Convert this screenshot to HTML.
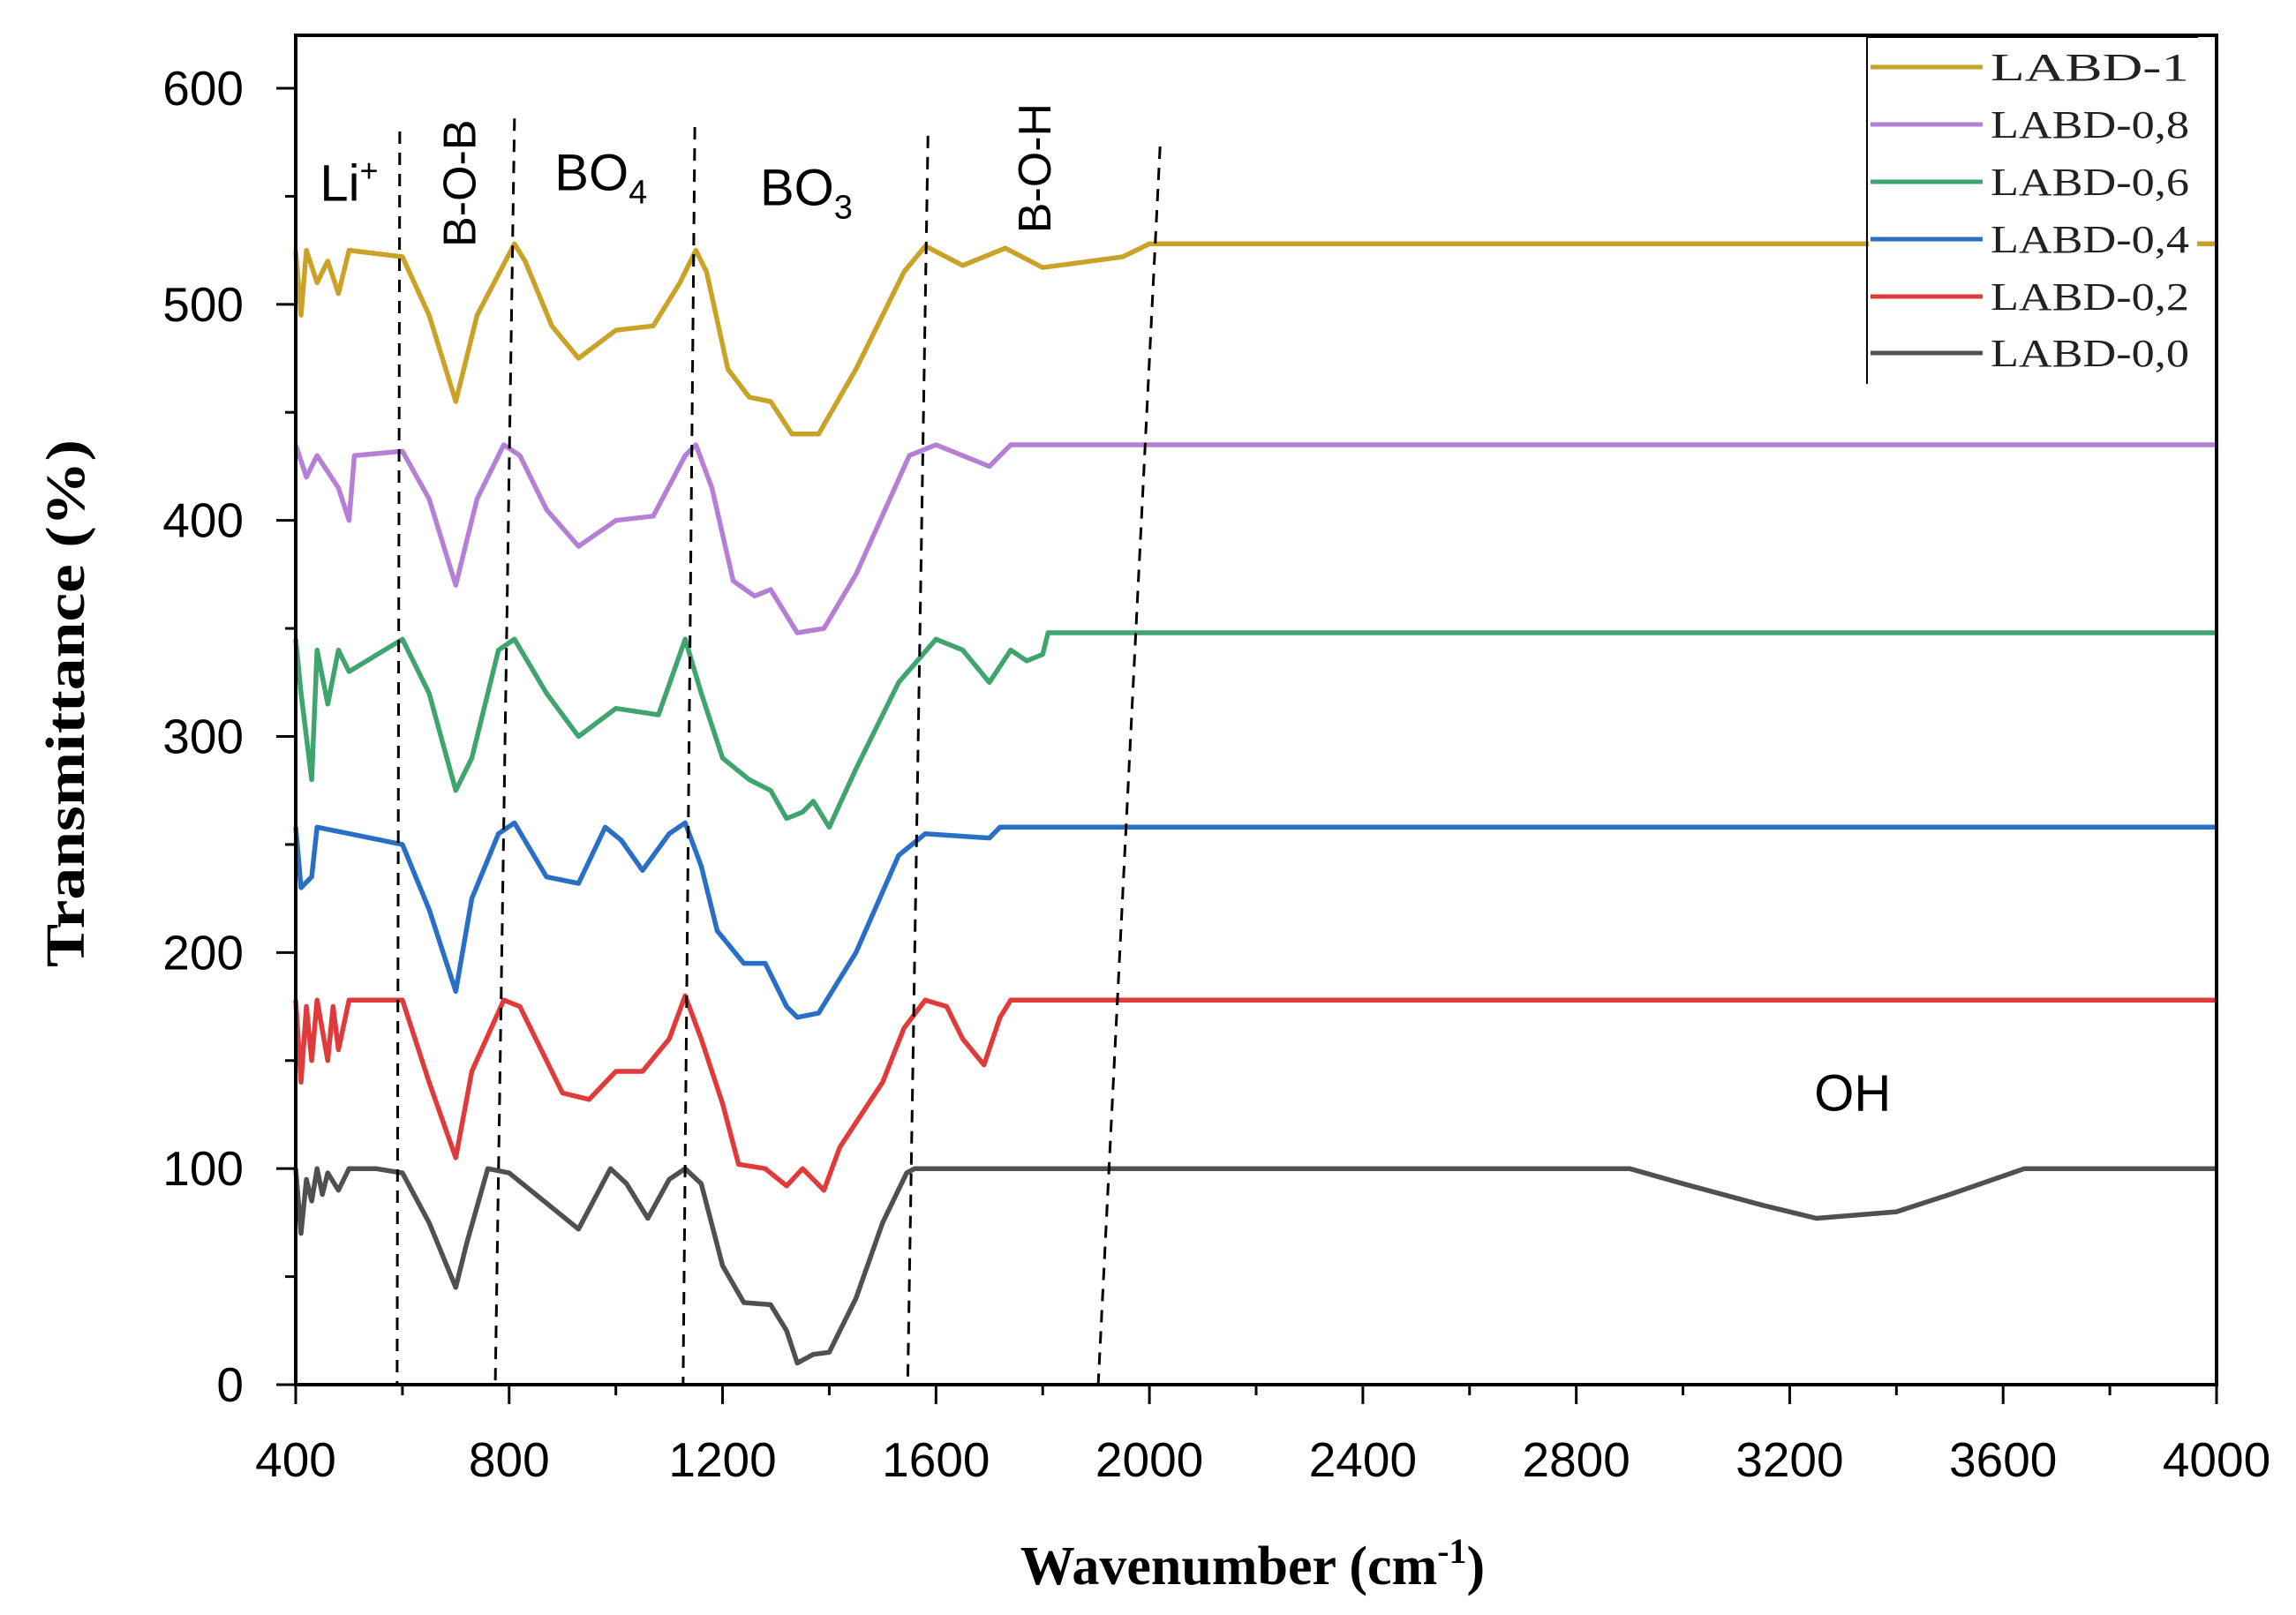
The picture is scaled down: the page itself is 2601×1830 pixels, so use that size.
<!DOCTYPE html>
<html><head><meta charset="utf-8"><style>
html,body{margin:0;padding:0;background:#fff;}
svg{display:block;}
</style></head><body>
<svg id="chart" width="2601" height="1830" viewBox="0 0 2601 1830" xmlns="http://www.w3.org/2000/svg" font-family="Liberation Sans, sans-serif">
<rect x="0" y="0" width="2601" height="1830" fill="#fff"/>
<g id="plot"></g>
</svg>
<script>
const xTicks=[400,800,1200,1600,2000,2400,2800,3200,3600,4000];
const yTicks=[0,100,200,300,400,500,600];
const seriesNames=["LABD-1","LABD-0,8","LABD-0,6","LABD-0,4","LABD-0,2","LABD-0,0"];
const seriesColors=["#c9a227","#b57fd6","#3fa46e","#2a6fc6","#e03a3a","#505050"];
const s0x=[400,410,420,430,440,450,460,480,500,550,600,650,700,720,760,800,850,930,990,1020,1060,1100,1130,1160,1200,1240,1290,1320,1340,1370,1400,1450,1500,1545,1560,2900,3000,3150,3250,3400,3500,3640,4000];
const s0y=[100,70,95,85,100,88,98,90,100,100,98,75,45,65,100,98,88,72,100,93,77,95,100,93,55,38,37,25,10,14,15,40,75,98,100,100,93,83,77,80,88,100,100];
const s1x=[400,410,420,430,440,460,470,480,500,600,650,700,730,790,820,900,950,1000,1050,1100,1130,1160,1200,1230,1280,1320,1350,1370,1390,1420,1500,1540,1580,1620,1650,1690,1720,1740,4000];
const s1y=[178,140,175,150,178,150,175,155,178,178,140,105,145,178,175,135,132,145,145,160,180,160,130,102,100,92,100,95,90,110,140,165,178,175,160,148,170,178,178];
const s2x=[400,410,430,440,600,650,700,730,780,810,870,930,980,1010,1050,1100,1130,1160,1190,1240,1280,1320,1340,1380,1450,1530,1580,1700,1720,4000];
const s2y=[258,230,235,258,250,220,182,225,255,260,235,232,258,252,238,255,260,240,210,195,195,175,170,172,200,245,255,253,258,258];
const s3x=[400,410,430,440,460,480,500,600,650,700,730,780,810,870,930,1000,1080,1130,1160,1200,1250,1290,1320,1350,1370,1400,1450,1530,1600,1650,1700,1740,1770,1800,1810,4000];
const s3y=[345,320,280,340,315,340,330,345,320,275,290,340,345,320,300,313,310,345,320,290,280,275,262,265,270,258,285,325,345,340,325,340,335,338,348,348];
const s4x=[400,420,440,480,500,510,600,650,700,740,790,820,870,930,1000,1070,1130,1150,1180,1220,1260,1290,1340,1390,1450,1550,1600,1700,1740,4000];
const s4y=[435,420,430,415,400,430,432,410,370,410,435,430,405,388,400,402,430,435,415,372,365,368,348,350,375,430,435,425,435,435];
const s5x=[400,410,420,440,460,480,500,600,650,700,740,810,830,880,930,1000,1070,1120,1150,1170,1210,1250,1290,1330,1380,1450,1540,1580,1650,1730,1800,1950,2000,4000];
const s5y=[525,495,525,510,520,505,525,522,495,455,495,528,520,490,475,488,490,510,525,515,470,457,455,440,440,470,515,527,518,526,517,522,528,528];
const seriesX=[s5x,s4x,s3x,s2x,s1x,s0x];
const seriesY=[s5y,s4y,s3y,s2y,s1y,s0y];
const dashTopX=[595,810,1148,1585,2020];
const dashBotX=[590,774,1126,1547,1904];
const dashTopY=[580,586,582,578,573];
const labelText=["Li","B-O-B","BO","BO","B-O-H","OH"];
const labelX=[500,705,972,1357,1783,3318];
const labelY=[556,556,561,554,563,135];

const L=335,R=2511,T=40,B=1569,Y0=1569,Y600=100;
const X=v=>L+(v-400)/3600*(R-L);
const Y=v=>Y0+(v/600)*(Y600-Y0);
const NS="http://www.w3.org/2000/svg";
const g=document.getElementById('plot');
function mk(tag,attrs,parent){const e=document.createElementNS(NS,tag);for(const k in attrs)e.setAttribute(k,attrs[k]);(parent||g).appendChild(e);return e;}

for(let i=0;i<seriesX.length;i++){
  let d='';
  for(let j=0;j<seriesX[i].length;j++){d+=(j?'L':'M')+X(seriesX[i][j]).toFixed(1)+' '+Y(seriesY[i][j]).toFixed(1);}
  const p=mk('path',{d:d,fill:'none',stroke:seriesColors[i],'stroke-width':5.5,'stroke-linejoin':'round'});
  
  
}
for(let i=0;i<dashTopX.length;i++){
  const l=mk('line',{x1:X(dashTopX[i]),y1:Y(dashTopY[i]),x2:X(dashBotX[i]),y2:B,stroke:'#000','stroke-width':3,'stroke-dasharray':'14 10'});
  
  
}
const fr=mk('path',{d:`M${L} ${T}H${R}V${B}H${L}Z`,fill:'none',stroke:'#000','stroke-width':4});


for(let v=0;v<=600;v+=50){
  const major=v%100===0;
  const t=mk('line',{x1:L,x2:L-(major?22:12),y1:Y(v),y2:Y(v),stroke:'#000','stroke-width':3});
  
  
}
yTicks.forEach(v=>{
  const t=mk('text',{x:276,y:Y(v)+19,'text-anchor':'end','font-size':55,fill:'#000'});
  t.textContent=v;
  
  
});
for(let v=400;v<=4000;v+=200){
  const major=(v-400)%400===0;
  const t=mk('line',{x1:X(v),x2:X(v),y1:B,y2:B+(major?22:12),stroke:'#000','stroke-width':3});
  
  
}
xTicks.forEach(v=>{
  const t=mk('text',{x:X(v),y:1673,'text-anchor':'middle','font-size':55,fill:'#000'});
  t.textContent=v;
  
  
});
const yt=mk('text',{x:0,y:0,transform:'translate(95,797) rotate(-90)','text-anchor':'middle','font-family':'Liberation Serif, serif','font-weight':'bold','font-size':62,textLength:598,lengthAdjust:'spacingAndGlyphs',fill:'#000'});
yt.textContent='Transmittance (%)';


const xt=mk('text',{x:1419,y:1795,'text-anchor':'middle','font-family':'Liberation Serif, serif','font-weight':'bold','font-size':62,fill:'#000'});
xt.innerHTML='Wavenumber (cm<tspan dy="-24" font-size="40">-1</tspan><tspan dy="24">)</tspan>';


for(let i=0;i<labelText.length;i++){
  const rot=labelText[i].indexOf('-')>=0;
  const x=X(labelX[i]),y=Y(labelY[i]);
  const t=mk('text',{x:0,y:0,'text-anchor':'middle','font-size':rot?52:58,fill:'#000',transform:rot?`translate(${x+19},${y}) rotate(-90)`:`translate(${x},${y+20})`});
  if(i===0)t.innerHTML='Li<tspan dy="-22" font-size="36">+</tspan>';
  else if(i===2)t.innerHTML='BO<tspan dy="15" font-size="38">4</tspan>';
  else if(i===3)t.innerHTML='BO<tspan dy="15" font-size="38">3</tspan>';
  else t.textContent=labelText[i];
  
  
}
const lg=mk('g',{});


mk('rect',{x:2117,y:42,width:372,height:392,fill:'#fff'},lg);
mk('path',{d:'M2115 435V42H2490',fill:'none',stroke:'#000','stroke-width':2},lg);
const rowY=[76,141,206,271,336,400];
for(let i=0;i<seriesNames.length;i++){
  const e=mk('g',{},lg);
  
  
  mk('line',{x1:2119,x2:2246,y1:rowY[i],y2:rowY[i],stroke:seriesColors[i],'stroke-width':5},e);
  const t=mk('text',{x:2255,y:rowY[i]+15,'font-family':'Liberation Serif, serif','font-size':44,textLength:225,lengthAdjust:'spacingAndGlyphs',fill:'#222'},e);
  t.textContent=seriesNames[i];
}
</script>
</body></html>
